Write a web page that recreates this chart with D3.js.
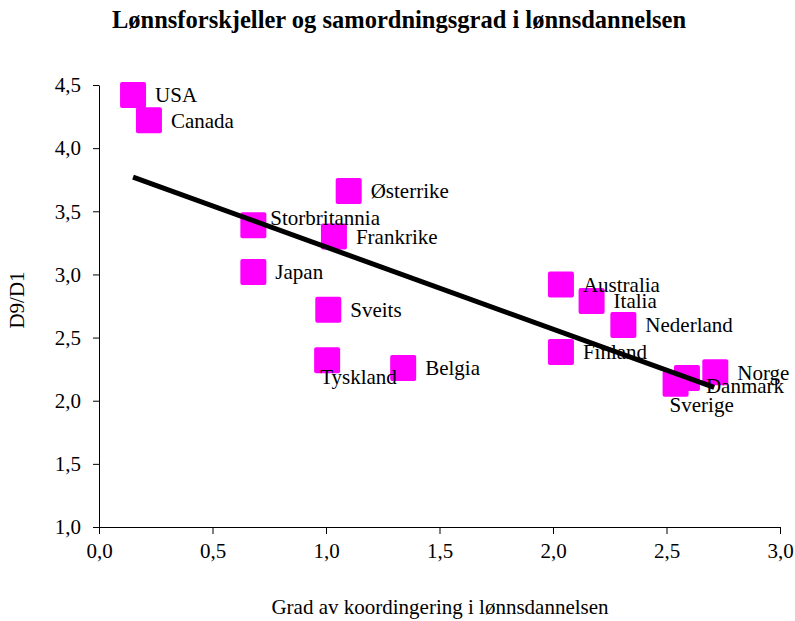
<!DOCTYPE html>
<html>
<head>
<meta charset="utf-8">
<script src="https://cdn.jsdelivr.net/npm/d3@7"></script>
<style>
  html, body { margin: 0; padding: 0; background: #fff; }
  svg { display: block; font-family: "Liberation Serif", "Times New Roman", serif; }
</style>
</head>
<body>
<svg id="chart" width="795" height="621"></svg>
<script>
// ---- data ----
const countries = ["USA","Canada","Østerrike","Storbritannia","Frankrike","Japan","Sveits","Tyskland","Belgia","Australia","Italia","Nederland","Finland","Norge","Danmark","Sverige"];
const coordination = [0.15, 0.22, 1.10, 0.68, 1.035, 0.68, 1.01, 1.005, 1.34, 2.035, 2.17, 2.31, 2.035, 2.715, 2.59, 2.54];
const d9d1 = [4.42, 4.22, 3.66, 3.39, 3.30, 3.02, 2.72, 2.32, 2.26, 2.92, 2.79, 2.60, 2.385, 2.225, 2.18, 2.135];
const trendX = [0.15, 2.71];
const trendY = [3.77, 2.105];
const xTicks = [0, 0.5, 1.0, 1.5, 2.0, 2.5, 3.0];
const yTicks = [1.0, 1.5, 2.0, 2.5, 3.0, 3.5, 4.0, 4.5];

// ---- layout ----
const labelOffset = {
  "Storbritannia": [17, -8],
  "Tyskland": [-7, 16],
  "Danmark": [19, 8],
  "Sverige": [-6, 21]
};
const svg = d3.select("#chart");
const x = d3.scaleLinear().domain([0, 3]).range([99, 780]);
const y = d3.scaleLinear().domain([1, 4.5]).range([527, 85]);
const fmt = d => d3.format(".1f")(d).replace(".", ",");
const FS = 21;

svg.append("text").attr("x", 399).attr("y", 28).attr("text-anchor", "middle")
  .attr("font-weight", "bold").attr("font-size", 24.5).text("Lønnsforskjeller og samordningsgrad i lønnsdannelsen");

const xAxis = svg.append("g").attr("transform", "translate(0,527)")
  .call(d3.axisBottom(x).tickValues(xTicks).tickFormat(fmt).tickSizeOuter(0).tickSizeInner(7).tickPadding(9));
const yAxis = svg.append("g").attr("transform", "translate(99,0)")
  .call(d3.axisLeft(y).tickValues(yTicks).tickFormat(fmt).tickSizeOuter(0).tickSizeInner(6).tickPadding(12));
[xAxis, yAxis].forEach(g => {
  g.selectAll("text").attr("font-family", "Liberation Serif, serif").attr("font-size", FS).attr("fill", "#000");
  g.selectAll("line,path").attr("stroke", "#000");
});

svg.append("text").attr("x", 440).attr("y", 614).attr("text-anchor", "middle")
  .attr("font-size", FS).text("Grad av koordingering i lønnsdannelsen");
svg.append("text").attr("transform", "translate(24,300) rotate(-90)").attr("text-anchor", "middle")
  .attr("font-size", FS).text("D9/D1");

const pts = countries.map((c, i) => ({c, x: coordination[i], y: d9d1[i]}));
svg.append("g").selectAll("rect").data(pts).join("rect")
  .attr("x", d => x(d.x) - 13).attr("y", d => y(d.y) - 13)
  .attr("width", 26).attr("height", 26).attr("rx", 2)
  .attr("fill", "#ff00ff");

svg.append("line")
  .attr("x1", x(trendX[0])).attr("y1", y(trendY[0]))
  .attr("x2", x(trendX[1])).attr("y2", y(trendY[1]))
  .attr("stroke", "#000").attr("stroke-width", 5);

svg.append("g").selectAll("text").data(pts).join("text")
  .attr("x", d => x(d.x) + (labelOffset[d.c] ? labelOffset[d.c][0] : 22))
  .attr("y", d => y(d.y) + (labelOffset[d.c] ? labelOffset[d.c][1] : 0))
  .attr("dy", "0.35em").attr("font-size", FS).text(d => d.c);
</script>
</body>
</html>
